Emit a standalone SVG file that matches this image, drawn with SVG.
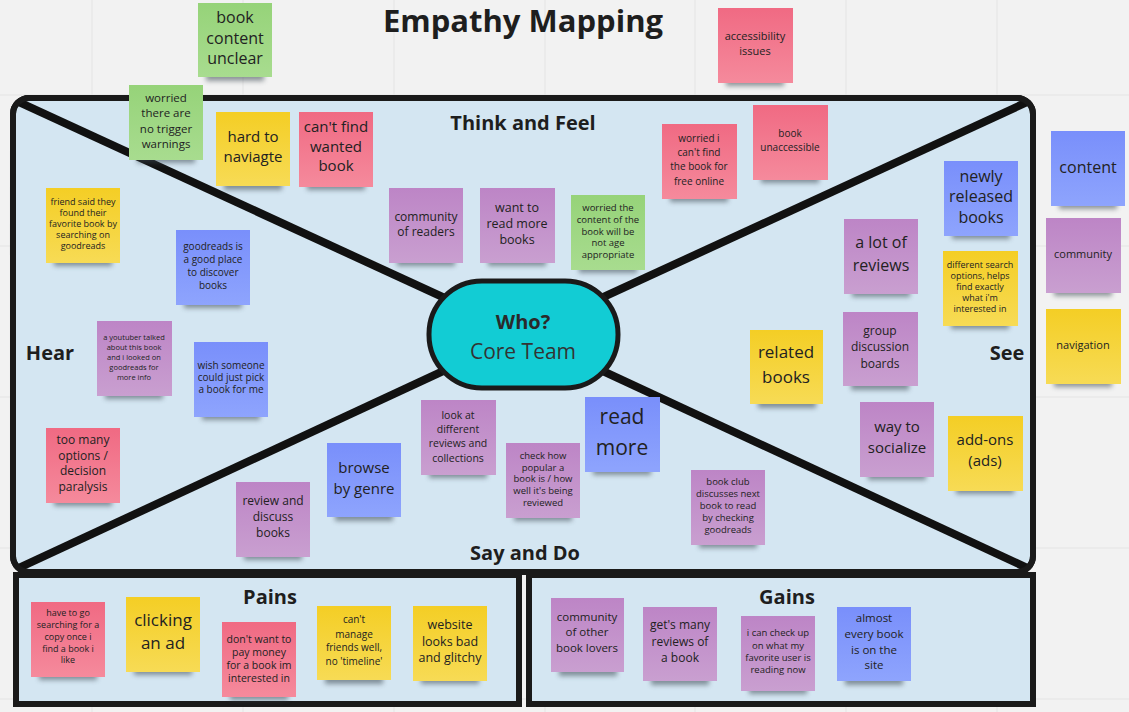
<svg xmlns="http://www.w3.org/2000/svg" width="1129" height="712" viewBox="0 0 1129 712">
<defs>
<linearGradient id="gG" x1="0" y1="0" x2="0" y2="1"><stop offset="0" stop-color="#96d379"/><stop offset="1" stop-color="#a8dc8f"/></linearGradient>
<linearGradient id="gY" x1="0" y1="0" x2="0" y2="1"><stop offset="0" stop-color="#f4ce25"/><stop offset="1" stop-color="#f7db55"/></linearGradient>
<linearGradient id="gP" x1="0" y1="0" x2="0" y2="1"><stop offset="0" stop-color="#f06a83"/><stop offset="1" stop-color="#f58a9c"/></linearGradient>
<linearGradient id="gV" x1="0" y1="0" x2="0" y2="1"><stop offset="0" stop-color="#bd85c6"/><stop offset="1" stop-color="#c99fd0"/></linearGradient>
<linearGradient id="gB" x1="0" y1="0" x2="0" y2="1"><stop offset="0" stop-color="#798ffb"/><stop offset="1" stop-color="#8ea4fd"/></linearGradient>
<filter id="blur" x="-20%" y="-50%" width="140%" height="200%"><feGaussianBlur stdDeviation="2.5"/></filter>
<clipPath id="fc"><rect x="13" y="98" width="1020" height="474" rx="16"/></clipPath>
</defs>
<style>
text{font-family:"Open Sans","Noto Sans","DejaVu Sans",sans-serif;fill:#222;text-anchor:middle}
.h{font-weight:bold;fill:#1e1e1e}
.shd{fill:#3a4650;opacity:0.55;filter:url(#blur)}
.G{fill:url(#gG)}.Y{fill:url(#gY)}.P{fill:url(#gP)}.V{fill:url(#gV)}.B{fill:url(#gB)}
.frame{fill:#d4e6f2;stroke:#1a1a1a;stroke-width:6}
.grid{stroke:#e4e4e4;stroke-width:1}
</style>
<rect width="1129" height="712" fill="#f2f2f2"/>
<g id="grid">
<line class="grid" x1="92" y1="0" x2="92" y2="712"/><line class="grid" x1="243" y1="0" x2="243" y2="712"/><line class="grid" x1="394" y1="0" x2="394" y2="712"/><line class="grid" x1="545" y1="0" x2="545" y2="712"/><line class="grid" x1="695" y1="0" x2="695" y2="712"/><line class="grid" x1="846" y1="0" x2="846" y2="712"/><line class="grid" x1="997" y1="0" x2="997" y2="712"/>
<line class="grid" x1="0" y1="95" x2="1129" y2="95"/><line class="grid" x1="0" y1="246" x2="1129" y2="246"/><line class="grid" x1="0" y1="397" x2="1129" y2="397"/><line class="grid" x1="0" y1="548" x2="1129" y2="548"/><line class="grid" x1="0" y1="699" x2="1129" y2="699"/>
</g>
<text id="title" class="h" x="523" y="32" font-size="31">Empathy Mapping</text>
<g id="frame">
<rect class="frame" x="13" y="98" width="1020" height="474" rx="16"/>
</g>
<g id="connectors" stroke="#111" stroke-width="8" clip-path="url(#fc)">
<line x1="10" y1="98" x2="523" y2="334"/>
<line x1="1036" y1="98" x2="523" y2="334"/>
<line x1="10" y1="572" x2="523" y2="334"/>
<line x1="1036" y1="572" x2="523" y2="334"/>
</g>
<g id="frame-border"><rect x="13" y="98" width="1020" height="474" rx="16" fill="none" stroke="#1a1a1a" stroke-width="6"/></g>
<g id="pains-box"><rect class="frame" x="16" y="575" width="503" height="129" stroke-width="5"/><text class="h" x="270" y="604" font-size="20">Pains</text></g>
<g id="gains-box"><rect class="frame" x="529" y="575" width="504" height="129" stroke-width="5"/><text class="h" x="787" y="604" font-size="20">Gains</text></g>
<g id="who">
<rect x="429" y="281" width="189" height="107" rx="53" fill="#12ccd4" stroke="#1a1a1a" stroke-width="5"/>
<text class="h" x="523" y="329" font-size="20" style="fill:#2a2a2a">Who?</text>
<text x="523" y="359" font-size="21" style="fill:#333">Core Team</text>
</g>
<g id="labels">
<text class="h" x="523" y="130" font-size="20">Think and Feel</text>
<text class="h" x="50" y="360" font-size="20">Hear</text>
<text class="h" x="1007" y="360" font-size="20">See</text>
<text class="h" x="525" y="560" font-size="20">Say and Do</text>
</g>
<g id="n1" transform="translate(198,3)"><rect class="shd" x="8" y="64" width="58" height="14"/><rect class="G" width="74" height="74"/><text font-size="16"><tspan x="37" y="20">book</tspan><tspan x="37" y="41">content</tspan><tspan x="37" y="61">unclear</tspan></text></g>
<g id="n2" transform="translate(718,8)"><rect class="shd" x="8" y="64" width="58" height="14"/><rect class="P" width="75" height="75"/><text font-size="11"><tspan x="37" y="32">accessibility</tspan><tspan x="37" y="47">issues</tspan></text></g>
<g id="n3" transform="translate(129,85)"><rect class="shd" x="8" y="64" width="58" height="14"/><rect class="G" width="74" height="75"/><text font-size="11.5"><tspan x="37" y="17">worried</tspan><tspan x="37" y="32">there are</tspan><tspan x="37" y="48">no trigger</tspan><tspan x="37" y="63">warnings</tspan></text></g>
<g id="n4" transform="translate(216,112)"><rect class="shd" x="8" y="64" width="58" height="14"/><rect class="Y" width="74" height="74"/><text font-size="15"><tspan x="37" y="30">hard to</tspan><tspan x="37" y="50">naviagte</tspan></text></g>
<g id="n5" transform="translate(299,112)"><rect class="shd" x="8" y="64" width="58" height="14"/><rect class="P" width="74" height="75"/><text font-size="15"><tspan x="37" y="20">can't find</tspan><tspan x="37" y="40">wanted</tspan><tspan x="37" y="59">book</tspan></text></g>
<g id="n6" transform="translate(389,188)"><rect class="shd" x="8" y="64" width="58" height="14"/><rect class="V" width="74" height="75"/><text font-size="12"><tspan x="37" y="33">community</tspan><tspan x="37" y="48">of readers</tspan></text></g>
<g id="n7" transform="translate(480,188)"><rect class="shd" x="8" y="64" width="58" height="14"/><rect class="V" width="75" height="75"/><text font-size="12.5"><tspan x="37" y="24">want to</tspan><tspan x="37" y="40">read more</tspan><tspan x="37" y="56">books</tspan></text></g>
<g id="n8" transform="translate(571,195)"><rect class="shd" x="8" y="64" width="58" height="14"/><rect class="G" width="74" height="75"/><text font-size="9.5"><tspan x="37" y="16">worried the</tspan><tspan x="37" y="28">content of the</tspan><tspan x="37" y="40">book will be</tspan><tspan x="37" y="51">not age</tspan><tspan x="37" y="63">appropriate</tspan></text></g>
<g id="n9" transform="translate(662,124)"><rect class="shd" x="8" y="64" width="58" height="14"/><rect class="P" width="75" height="75"/><text font-size="10"><tspan x="37" y="18">worried i</tspan><tspan x="37" y="32">can't find</tspan><tspan x="37" y="46">the book for</tspan><tspan x="37" y="61">free online</tspan></text></g>
<g id="n10" transform="translate(753,105)"><rect class="shd" x="8" y="64" width="58" height="14"/><rect class="P" width="75" height="75"/><text font-size="10"><tspan x="37" y="32">book</tspan><tspan x="37" y="46">unaccessible</tspan></text></g>
<g id="n11" transform="translate(944,161)"><rect class="shd" x="8" y="64" width="58" height="14"/><rect class="B" width="74" height="75"/><text font-size="16"><tspan x="37" y="21">newly</tspan><tspan x="37" y="41">released</tspan><tspan x="37" y="62">books</tspan></text></g>
<g id="n12" transform="translate(1051,131)"><rect class="shd" x="8" y="64" width="58" height="14"/><rect class="B" width="74" height="75"/><text font-size="16"><tspan x="37" y="42">content</tspan></text></g>
<g id="n13" transform="translate(1046,218)"><rect class="shd" x="8" y="64" width="58" height="14"/><rect class="V" width="75" height="75"/><text font-size="11"><tspan x="37" y="40">community</tspan></text></g>
<g id="n14" transform="translate(1046,309)"><rect class="shd" x="8" y="64" width="58" height="14"/><rect class="Y" width="75" height="75"/><text font-size="11"><tspan x="37" y="40">navigation</tspan></text></g>
<g id="n15" transform="translate(844,219)"><rect class="shd" x="8" y="64" width="58" height="14"/><rect class="V" width="74" height="75"/><text font-size="16"><tspan x="37" y="29">a lot of</tspan><tspan x="37" y="52">reviews</tspan></text></g>
<g id="n16" transform="translate(943,251)"><rect class="shd" x="8" y="64" width="58" height="14"/><rect class="Y" width="75" height="75"/><text font-size="9"><tspan x="37" y="17">different search</tspan><tspan x="37" y="28">options, helps</tspan><tspan x="37" y="39">find exactly</tspan><tspan x="37" y="50">what i'm</tspan><tspan x="37" y="61">interested in</tspan></text></g>
<g id="n17" transform="translate(843,312)"><rect class="shd" x="8" y="64" width="58" height="14"/><rect class="V" width="75" height="74"/><text font-size="12"><tspan x="37" y="23">group</tspan><tspan x="37" y="39">discussion</tspan><tspan x="37" y="56">boards</tspan></text></g>
<g id="n18" transform="translate(750,330)"><rect class="shd" x="8" y="64" width="58" height="14"/><rect class="Y" width="73" height="74"/><text font-size="17"><tspan x="36" y="28">related</tspan><tspan x="36" y="53">books</tspan></text></g>
<g id="n19" transform="translate(860,402)"><rect class="shd" x="8" y="64" width="58" height="14"/><rect class="V" width="74" height="75"/><text font-size="15"><tspan x="37" y="30">way to</tspan><tspan x="37" y="51">socialize</tspan></text></g>
<g id="n20" transform="translate(948,416)"><rect class="shd" x="8" y="64" width="58" height="14"/><rect class="Y" width="75" height="75"/><text font-size="15"><tspan x="37" y="29">add-ons</tspan><tspan x="37" y="50">(ads)</tspan></text></g>
<g id="n21" transform="translate(691,470)"><rect class="shd" x="8" y="64" width="58" height="14"/><rect class="V" width="74" height="75"/><text font-size="9.5"><tspan x="37" y="15">book club</tspan><tspan x="37" y="27">discusses next</tspan><tspan x="37" y="39">book to read</tspan><tspan x="37" y="51">by checking</tspan><tspan x="37" y="63">goodreads</tspan></text></g>
<g id="n22" transform="translate(585,397)"><rect class="shd" x="8" y="64" width="58" height="14"/><rect class="B" width="75" height="75"/><text font-size="21"><tspan x="37" y="27">read</tspan><tspan x="37" y="58">more</tspan></text></g>
<g id="n23" transform="translate(421,400)"><rect class="shd" x="8" y="64" width="58" height="14"/><rect class="V" width="75" height="75"/><text font-size="10.5"><tspan x="37" y="19">look at</tspan><tspan x="37" y="33">different</tspan><tspan x="37" y="47">reviews and</tspan><tspan x="37" y="62">collections</tspan></text></g>
<g id="n24" transform="translate(506,443)"><rect class="shd" x="8" y="64" width="58" height="14"/><rect class="V" width="74" height="75"/><text font-size="9.5"><tspan x="37" y="16">check how</tspan><tspan x="37" y="28">popular a</tspan><tspan x="37" y="39">book is / how</tspan><tspan x="37" y="51">well it's being</tspan><tspan x="37" y="63">reviewed</tspan></text></g>
<g id="n25" transform="translate(327,443)"><rect class="shd" x="8" y="64" width="58" height="14"/><rect class="B" width="74" height="74"/><text font-size="15"><tspan x="37" y="30">browse</tspan><tspan x="37" y="51">by genre</tspan></text></g>
<g id="n26" transform="translate(236,482)"><rect class="shd" x="8" y="64" width="58" height="14"/><rect class="V" width="74" height="75"/><text font-size="12"><tspan x="37" y="23">review and</tspan><tspan x="37" y="39">discuss</tspan><tspan x="37" y="55">books</tspan></text></g>
<g id="n27" transform="translate(46,188)"><rect class="shd" x="8" y="64" width="58" height="14"/><rect class="Y" width="74" height="75"/><text font-size="9"><tspan x="37" y="17">friend said they</tspan><tspan x="37" y="28">found their</tspan><tspan x="37" y="39">favorite book by</tspan><tspan x="37" y="50">searching on</tspan><tspan x="37" y="61">goodreads</tspan></text></g>
<g id="n28" transform="translate(176,230)"><rect class="shd" x="8" y="64" width="58" height="14"/><rect class="B" width="74" height="75"/><text font-size="10"><tspan x="37" y="20">goodreads is</tspan><tspan x="37" y="33">a good place</tspan><tspan x="37" y="46">to discover</tspan><tspan x="37" y="59">books</tspan></text></g>
<g id="n29" transform="translate(97,321)"><rect class="shd" x="8" y="64" width="58" height="14"/><rect class="V" width="75" height="75"/><text font-size="7.5"><tspan x="37" y="19">a youtuber talked</tspan><tspan x="37" y="29">about this book</tspan><tspan x="37" y="39">and i looked on</tspan><tspan x="37" y="49">goodreads for</tspan><tspan x="37" y="59">more info</tspan></text></g>
<g id="n30" transform="translate(194,342)"><rect class="shd" x="8" y="64" width="58" height="14"/><rect class="B" width="74" height="75"/><text font-size="10"><tspan x="37" y="27">wish someone</tspan><tspan x="37" y="39">could just pick</tspan><tspan x="37" y="51">a book for me</tspan></text></g>
<g id="n31" transform="translate(46,428)"><rect class="shd" x="8" y="64" width="58" height="14"/><rect class="P" width="74" height="75"/><text font-size="12"><tspan x="37" y="16">too many</tspan><tspan x="37" y="32">options /</tspan><tspan x="37" y="47">decision</tspan><tspan x="37" y="63">paralysis</tspan></text></g>
<g id="n32" transform="translate(31,602)"><rect class="shd" x="8" y="64" width="58" height="14"/><rect class="P" width="74" height="75"/><text font-size="9"><tspan x="37" y="14">have to go</tspan><tspan x="37" y="26">searching for a</tspan><tspan x="37" y="38">copy once i</tspan><tspan x="37" y="50">find a book i</tspan><tspan x="37" y="61">like</tspan></text></g>
<g id="n33" transform="translate(126,597)"><rect class="shd" x="8" y="64" width="58" height="14"/><rect class="Y" width="74" height="75"/><text font-size="17"><tspan x="37" y="29">clicking</tspan><tspan x="37" y="52">an ad</tspan></text></g>
<g id="n34" transform="translate(222,622)"><rect class="shd" x="8" y="64" width="58" height="14"/><rect class="P" width="74" height="75"/><text font-size="10.5"><tspan x="37" y="21">don't want to</tspan><tspan x="37" y="34">pay money</tspan><tspan x="37" y="47">for a book im</tspan><tspan x="37" y="60">interested in</tspan></text></g>
<g id="n35" transform="translate(317,606)"><rect class="shd" x="8" y="64" width="58" height="14"/><rect class="Y" width="74" height="74"/><text font-size="10"><tspan x="37" y="17">can't</tspan><tspan x="37" y="32">manage</tspan><tspan x="37" y="45">friends well,</tspan><tspan x="37" y="59">no 'timeline'</tspan></text></g>
<g id="n36" transform="translate(413,606)"><rect class="shd" x="8" y="64" width="58" height="14"/><rect class="Y" width="74" height="75"/><text font-size="12.5"><tspan x="37" y="23">website</tspan><tspan x="37" y="40">looks bad</tspan><tspan x="37" y="56">and glitchy</tspan></text></g>
<g id="n37" transform="translate(551,598)"><rect class="shd" x="8" y="64" width="58" height="14"/><rect class="V" width="73" height="74"/><text font-size="11.5"><tspan x="36" y="23">community</tspan><tspan x="36" y="38">of other</tspan><tspan x="36" y="54">book lovers</tspan></text></g>
<g id="n38" transform="translate(643,607)"><rect class="shd" x="8" y="64" width="58" height="14"/><rect class="V" width="74" height="74"/><text font-size="12"><tspan x="37" y="22">get's many</tspan><tspan x="37" y="39">reviews of</tspan><tspan x="37" y="55">a book</tspan></text></g>
<g id="n39" transform="translate(741,616)"><rect class="shd" x="8" y="64" width="58" height="14"/><rect class="V" width="74" height="75"/><text font-size="9.5"><tspan x="37" y="20">i can check up</tspan><tspan x="37" y="33">on what my</tspan><tspan x="37" y="45">favorite user is</tspan><tspan x="37" y="57">reading now</tspan></text></g>
<g id="n40" transform="translate(837,607)"><rect class="shd" x="8" y="64" width="58" height="14"/><rect class="B" width="74" height="74"/><text font-size="11.5"><tspan x="37" y="15">almost</tspan><tspan x="37" y="31">every book</tspan><tspan x="37" y="47">is on the</tspan><tspan x="37" y="62">site</tspan></text></g>
</svg>
